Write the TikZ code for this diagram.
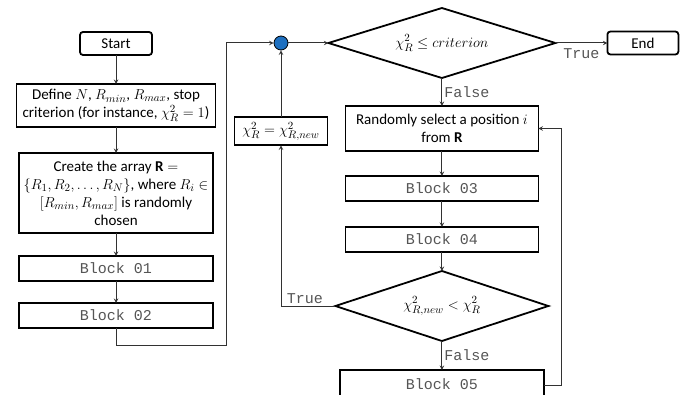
\documentclass[tikz,border=0pt]{standalone}
\usepackage{fontspec}
\setmainfont{Carlito}
\setmonofont{Liberation Mono}
\usepackage{tikz}
\usetikzlibrary{positioning, shapes, arrows}
\definecolor{linegray}{RGB}{50,50,50}
\definecolor{labelgray}{RGB}{85,85,85}
\definecolor{junctionblue}{RGB}{30,112,192}
\newcommand{\txtfont}{\fontsize{15}{18}\selectfont}
\newcommand{\codefont}{\fontsize{15}{17}\selectfont\ttfamily}

\begin{document}
\begin{tikzpicture}[x=1pt, y=-1pt, node distance=25pt]
    % Define styles
    \tikzstyle{process} = [rectangle, draw, line width=1.8pt, align=center, inner sep=2pt, outer sep=0pt, font=\txtfont]
    \tikzstyle{block} = [process, minimum height=25pt, font=\codefont, text=labelgray]
    \tikzstyle{terminal} = [process, rounded corners=3pt, minimum height=23pt]
    \tikzstyle{decision} = [diamond, draw, line width=1.8pt, aspect=3.2, inner sep=0pt, outer sep=0pt, font=\txtfont]
    \tikzstyle{arrow} = [->, >=stealth, line width=1pt, draw=linegray]
    \tikzstyle{lbl} = [font=\codefont, text=labelgray, inner sep=2pt]

    \useasboundingbox[fill=white] (0,0) rectangle (687,395);

    % Left column
    \node[terminal, minimum width=72pt] (start) at (116,43.5) {Start};
    \node[process, minimum width=199pt, minimum height=43pt, below=29pt of start] (define)
        {Define $N$, $R_{min}$, $R_{max}$, stop\\criterion (for instance, $\chi_R^2 = 1$)};
    \node[process, minimum width=194pt, minimum height=80pt, below=26pt of define] (create)
        {Create the array $\mathbf{R} =$\\$\{R_1, R_2, \dots, R_N\}$, where $R_i \in$\\$[R_{min}, R_{max}]$ is randomly\\chosen};
    \node[block, minimum width=194pt, below=23pt of create] (block01) {Block 01};
    \node[block, minimum width=194pt, below=22pt of block01] (block02) {Block 02};

    % Loop and right column
    \node[circle, draw, line width=0.8pt, fill=junctionblue, minimum size=14pt, inner sep=0pt] (junction) at (281,43) {};
    \node[decision, minimum width=227pt, minimum height=70pt, right=40pt of junction] (check) {$\chi_R^2 \leq criterion$};
    \node[terminal, minimum width=71pt, right=52pt of check] (end) {End};
    \node[process, minimum width=193pt, minimum height=45pt, below=28pt of check] (select)
        {Randomly select a position $i$\\from $\mathbf{R}$};
    \node[block, minimum width=193pt, below=25pt of select] (block03) {Block 03};
    \node[block, minimum width=193pt, below=26pt of block03] (block04) {Block 04};
    \node[decision, minimum width=213pt, minimum height=70pt, below=19pt of block04] (compare) {$\chi_{R,new}^2 < \chi_R^2$};
    \node[block, minimum width=204pt, minimum height=28pt, below=29pt of compare] (block05) {Block 05};
    \node[process, minimum width=93pt, minimum height=28pt, below=67pt of junction] (update) {$\chi_R^2 = \chi_{R,new}^2$};
    \coordinate (loop) at (226,345);

    % Arrows
    \draw[arrow] (start) -- (define);
    \draw[arrow] (define) -- (create);
    \draw[arrow] (create) -- (block01);
    \draw[arrow] (block01) -- (block02);
    \draw[arrow] (block02.south) |- (loop) |- (junction.west);
    \draw[arrow] (junction) -- (check);
    \draw[arrow] (check) -- node[lbl, below=3pt] {True} (end);
    \draw[arrow] (check) -- node[lbl, right] {False} (select);
    \draw[arrow] (select) -- (block03);
    \draw[arrow] (block03) -- (block04);
    \draw[arrow] (block04) -- (compare);
    \draw[arrow] (compare) -- node[lbl, right] {False} (block05);
    \draw[arrow] (compare) -| node[lbl, pos=0.28, above] {True} (update);
    \draw[arrow] (update) -- (junction);
    \draw[arrow] ([yshift=-1.5pt]block05.east) -- ++(18,0) |- (select.east);

\end{tikzpicture}
\end{document}
